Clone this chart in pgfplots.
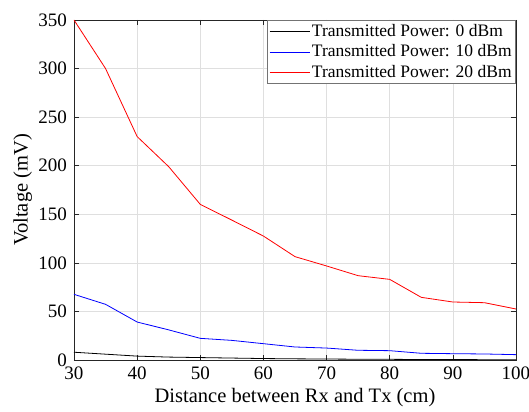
\documentclass[border=0pt]{standalone}
\usepackage{fontspec}
\setmainfont{Liberation Serif}
\usepackage{pgfplots}
\pgfplotsset{compat=1.18}
\begin{document}
\fontsize{18bp}{21bp}\selectfont
\begin{tikzpicture}
\path[use as bounding box] (-74bp,-52bp) rectangle (455bp,360bp);
\begin{axis}[
  at={(0,0)}, anchor=south west,
  scale only axis,
  width=442bp, height=340bp,
  xmin=30, xmax=100, ymin=0, ymax=350,
  xtick={30,40,...,100},
  ytick={0,50,...,350},
  tick align=inside,
  major tick length=5bp,
  xtick pos=both, ytick pos=both,
  grid=major,
  grid style={gray!25, line width=0.6bp},
  axis line style={black!85, line width=0.7bp},
  every tick/.style={black!85, line width=0.6bp},
  /pgf/number format/assume math mode=true,
  tick label style={font=\fontsize{19bp}{22bp}\selectfont},
  xticklabel style={yshift=-1bp},
  yticklabel style={xshift=-1bp},
  label style={font=\fontsize{20.5bp}{23bp}\selectfont},
  xlabel={Distance between Rx and Tx (cm)},
  ylabel={Voltage (mV)},
  xlabel style={yshift=4bp},
  ylabel style={yshift=-6bp},
  legend style={at={(rel axis cs:1,1)}, anchor=north east, draw=black!55, line width=0.8bp, font=\fontsize{17.5bp}{20bp}\selectfont, inner sep=2bp, row sep=1.5bp},
  legend cell align=left,
  legend image post style={line width=0.8bp},
  legend image code/.code={\draw[#1] (0bp,0bp) -- (40bp,0bp);},
]
\addplot[black, line width=0.8bp] coordinates {(30,8) (35,6) (40,4) (45,3) (50,2.5) (55,2) (60,1.5) (65,1.2) (70,1) (75,0.8) (80,0.7) (85,0.5) (90,0.4) (95,0.35) (100,0.3)};
\addlegendentry{Transmitted Power: 0 dBm}
\addplot[blue, line width=0.8bp] coordinates {(30,67.6) (35,57.3) (40,39.1) (45,31) (50,22.3) (55,20.2) (60,16.8) (65,13.4) (70,12.3) (75,10) (80,9.6) (85,6.9) (90,6.5) (95,6.2) (100,5.5)};
\addlegendentry{Transmitted Power: 10 dBm}
\addplot[red, line width=0.8bp] coordinates {(30,350) (35,300) (40,230) (45,199) (50,160.2) (55,144) (60,127.6) (65,106.4) (70,96.8) (75,86.8) (80,83) (85,64.5) (90,59.7) (95,59) (100,52.5)};
\addlegendentry{Transmitted Power: 20 dBm}
\end{axis}
\end{tikzpicture}
\end{document}
